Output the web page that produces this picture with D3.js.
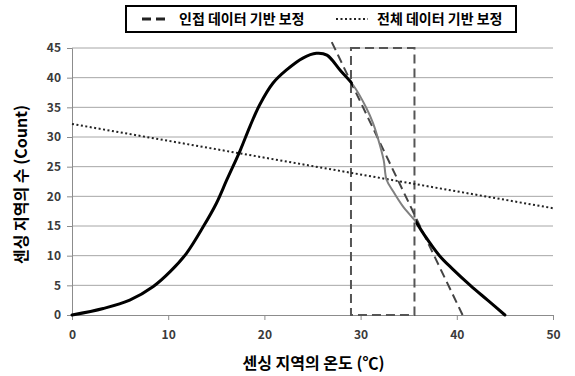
<!DOCTYPE html>
<html>
<head>
<meta charset="utf-8">
<script src="https://cdn.jsdelivr.net/npm/d3@7"></script>
<style>
  body { margin: 0; background: #fff; }
  text { font-family: "Noto Sans CJK KR", "Noto Sans", sans-serif; }
</style>
</head>
<body>
<svg id="chart" width="575" height="376"></svg>
<script>
// measured curve (temperature vs count)
var tempC = [0, 3.25, 6.0, 8.45, 10.2, 11.9, 13.65, 15.0, 16.1, 17.5, 18.5, 19.5, 20.9, 22.3, 24.0, 25.4, 26.5, 27.9, 29.2, 30.6, 31.3, 31.8, 32.4, 32.7, 33.4, 34.4, 35.7, 36.5, 38.2, 39.6, 41.4, 43.2, 45];
var count = [0, 1.1, 2.5, 4.8, 7.3, 10.4, 14.9, 18.8, 22.8, 27.8, 31.8, 35.4, 39.1, 41.3, 43.3, 44.1, 43.8, 41.2, 38.8, 34.9, 32.3, 29.8, 26.1, 22.8, 20.8, 18.3, 15.8, 13.8, 10, 7.7, 5, 2.5, 0];
// temperature range of the corrected (gray) part
var grayRange = [29.2, 35.7];

// adjacent-data fit (dashed) and whole-data fit (dotted)
var nearFitX = [27.0, 40.6];
var nearFitY = [46, 0];
var allFitX = [0, 50];
var allFitY = [32.2, 18.0];

// window used for the adjacent fit
var boxX = [29.0, 35.6];
var boxY = [0, 45];

var xTicks = [0, 10, 20, 30, 40, 50];
var yTicks = [0, 5, 10, 15, 20, 25, 30, 35, 40, 45];
var legendLabels = ["인접 데이터 기반 보정", "전체 데이터 기반 보정"];
var xTitle = "센싱 지역의 온도 (℃)";
var yTitle = "센싱 지역의 수 (Count)";

var svg = d3.select('#chart');
var margin = { top: 48, right: 22, bottom: 61, left: 72 };
var width = 575, height = 376;

var xScale = d3.scaleLinear().domain([0, 50]).range([margin.left, width - margin.right]);
var yScale = d3.scaleLinear().domain([0, 45]).range([height - margin.bottom, margin.top]);

// gridlines
svg.append('g')
  .selectAll('line')
  .data(yTicks.filter(d => d > 0))
  .enter().append('line')
  .attr('x1', xScale(0)).attr('x2', xScale(50))
  .attr('y1', d => yScale(d)).attr('y2', d => yScale(d))
  .style('stroke', '#a6a6a6').style('stroke-width', 1);

// axes
var yAxis = svg.append('g')
  .attr('transform', `translate(${xScale(0)},0)`)
  .call(d3.axisLeft(yScale).tickValues(yTicks).tickSize(5).tickPadding(6));
var xAxis = svg.append('g')
  .attr('transform', `translate(0,${yScale(0)})`)
  .call(d3.axisBottom(xScale).tickValues(xTicks).tickSize(5).tickPadding(10));
[xAxis, yAxis].forEach(function(g) {
  g.selectAll('.domain').style('stroke', '#8c8c8c');
  g.selectAll('.tick line').style('stroke', '#8c8c8c');
  g.selectAll('.tick text')
    .style('font-size', '12px').style('font-weight', 'bold')
    .style('fill', '#3a3a3a')
    .style('font-family', '"Noto Sans CJK KR", sans-serif');
});

// dashed box
svg.append('rect')
  .attr('x', xScale(boxX[0])).attr('y', yScale(boxY[1]))
  .attr('width', xScale(boxX[1]) - xScale(boxX[0]))
  .attr('height', yScale(boxY[0]) - yScale(boxY[1]))
  .style('fill', 'none').style('stroke', '#555')
  .style('stroke-width', 2).style('stroke-dasharray', '9,5');

// fit lines
var fitLine = d3.line().x(d => xScale(d[0])).y(d => yScale(d[1]));
svg.append('path')
  .datum(d3.zip(allFitX, allFitY))
  .attr('d', fitLine)
  .style('fill', 'none').style('stroke', '#222')
  .style('stroke-width', 2).style('stroke-dasharray', '2,2.5');
svg.append('path')
  .datum(d3.zip(nearFitX, nearFitY))
  .attr('d', fitLine)
  .style('fill', 'none').style('stroke', '#444')
  .style('stroke-width', 2).style('stroke-dasharray', '9,5');

// main curve: one smooth path, black outside the gray range, gray inside
var defs = svg.append('defs');
defs.append('clipPath').attr('id', 'clip-gray')
  .append('rect')
  .attr('x', xScale(grayRange[0])).attr('y', 0)
  .attr('width', xScale(grayRange[1]) - xScale(grayRange[0])).attr('height', height);
var clipOut = defs.append('clipPath').attr('id', 'clip-black');
clipOut.append('rect')
  .attr('x', 0).attr('y', 0).attr('width', xScale(grayRange[0])).attr('height', height);
clipOut.append('rect')
  .attr('x', xScale(grayRange[1])).attr('y', 0)
  .attr('width', width - xScale(grayRange[1])).attr('height', height);

var pts = d3.zip(tempC, count);
var curve = d3.line()
  .x(d => xScale(d[0])).y(d => yScale(d[1]))
  .curve(d3.curveCatmullRom.alpha(0.5));
svg.append('path')
  .datum(pts)
  .attr('d', curve)
  .attr('clip-path', 'url(#clip-black)')
  .style('fill', 'none').style('stroke', '#000')
  .style('stroke-width', 3).style('stroke-linecap', 'round');
svg.append('path')
  .datum(pts)
  .attr('d', curve)
  .attr('clip-path', 'url(#clip-gray)')
  .style('fill', 'none').style('stroke', '#808080')
  .style('stroke-width', 2);

// axis titles
svg.append('text')
  .attr('x', (xScale(0) + xScale(50)) / 2 + 1)
  .attr('y', 369)
  .style('text-anchor', 'middle')
  .style('font-size', '16px').style('font-weight', 'bold')
  .text(xTitle);
svg.append('text')
  .attr('transform', `translate(27,${(yScale(0) + yScale(45)) / 2 + 3}) rotate(-90)`)
  .style('text-anchor', 'middle')
  .style('font-size', '16px').style('font-weight', 'bold')
  .text(yTitle);

// legend
var lg = svg.append('g');
lg.append('rect')
  .attr('x', 126).attr('y', 6).attr('width', 390).attr('height', 26)
  .style('fill', '#fff').style('stroke', '#000').style('stroke-width', 2);
lg.append('line')
  .attr('x1', 142).attr('x2', 170).attr('y1', 19).attr('y2', 19)
  .style('stroke', '#222').style('stroke-width', 3).style('stroke-dasharray', '9,5');
lg.append('line')
  .attr('x1', 336).attr('x2', 368).attr('y1', 19).attr('y2', 19)
  .style('stroke', '#222').style('stroke-width', 2).style('stroke-dasharray', '2,2.5');
lg.selectAll('.lt')
  .data(legendLabels)
  .enter().append('text')
  .attr('class', 'lt')
  .attr('x', (d, i) => i === 0 ? 179 : 377)
  .attr('y', 24)
  .style('font-size', '14px').style('font-weight', 'bold')
  .text(d => d);
</script>
</body>
</html>
